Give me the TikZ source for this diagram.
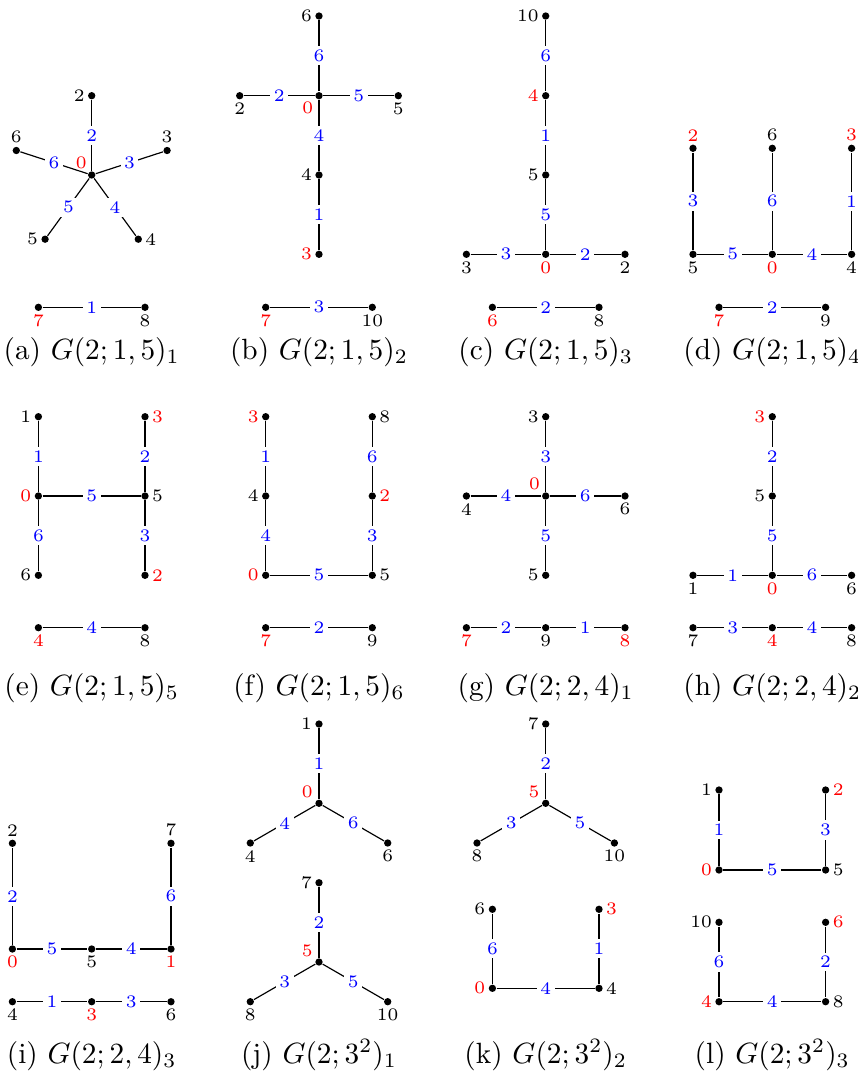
\documentclass[tikz,border=0pt]{standalone}
\usepackage{tikz}
\newcommand\lab{\fontsize{6}{7}\selectfont}
\newcommand\vtx[4]{\node[vdot,label={#4}] (#1) at (#2,#3) {};}
\newcommand\edg[3]{\draw (#1) -- node[elab]{#3} (#2);}
\tikzset{
  vdot/.style={circle,fill=black,inner sep=0pt,minimum size=2.5pt},
  elab/.style={fill=white,text=blue,font=\lab,inner sep=1.2pt},
  every label/.style={font=\lab,inner sep=0.8pt},
  capt/.style={anchor=base,font=\fontsize{10}{12}\selectfont,inner sep=0pt}
}
\begin{document}
\begin{tikzpicture}[x=0.3413pt,y=-0.3413pt,line width=0.4pt]
\useasboundingbox (0,0) rectangle (857,1082);
% (a)
\vtx{a0}{91.7}{175}{[red]120:0}
\vtx{a2}{91.7}{95.7}{left:2}
\vtx{a3}{167.1}{150.5}{above:3}
\vtx{a4}{138.3}{239.2}{right:4}
\vtx{a5}{45.1}{239.2}{left:5}
\vtx{a6}{16.3}{150.5}{above:6}
\vtx{a7}{38.4}{307.3}{[red]below:7}
\vtx{a8}{145}{307.3}{below:8}
\edg{a0}{a2}{2}\edg{a0}{a3}{3}\edg{a0}{a4}{4}\edg{a0}{a5}{5}\edg{a0}{a6}{6}\edg{a7}{a8}{1}
% (b)
\vtx{b6}{319}{16}{left:6}
\vtx{b0}{319}{95.7}{[red]below left:0}
\vtx{b2}{239.7}{95.7}{below:2}
\vtx{b5}{398.3}{95.7}{below:5}
\vtx{b4}{319}{175}{left:4}
\vtx{b3}{319}{254.3}{[red]left:3}
\vtx{b7}{265.7}{307.3}{[red]below:7}
\vtx{b10}{372.3}{307.3}{below:10}
\edg{b6}{b0}{6}\edg{b2}{b0}{2}\edg{b0}{b5}{5}\edg{b0}{b4}{4}\edg{b4}{b3}{1}\edg{b7}{b10}{3}
% (c)
\vtx{c10}{545.7}{16}{left:10}
\vtx{c4}{545.7}{95.7}{[red]left:4}
\vtx{c5}{545.7}{175}{left:5}
\vtx{c0}{545.7}{254.3}{[red]below:0}
\vtx{c3}{466.4}{254.3}{below:3}
\vtx{c2}{625}{254.3}{below:2}
\vtx{c6}{492.4}{307.3}{[red]below:6}
\vtx{c8}{599}{307.3}{below:8}
\edg{c10}{c4}{6}\edg{c4}{c5}{1}\edg{c5}{c0}{5}\edg{c3}{c0}{3}\edg{c0}{c2}{2}\edg{c6}{c8}{2}
% (d)
\vtx{d2}{693}{148.3}{[red]above:2}
\vtx{d6}{772.3}{148.3}{above:6}
\vtx{d3}{851.6}{148.3}{[red]above:3}
\vtx{d5}{693}{254.3}{below:5}
\vtx{d0}{772.3}{254.3}{[red]below:0}
\vtx{d4}{851.6}{254.3}{below:4}
\vtx{d7}{719}{307.3}{[red]below:7}
\vtx{d9}{825.6}{307.3}{below:9}
\edg{d2}{d5}{3}\edg{d6}{d0}{6}\edg{d3}{d4}{1}\edg{d5}{d0}{5}\edg{d0}{d4}{4}\edg{d7}{d9}{2}
% (e)
\vtx{e1}{38.4}{416.7}{left:1}
\vtx{e0}{38.4}{496}{[red]left:0}
\vtx{e6}{38.4}{575.3}{left:6}
\vtx{e3}{145}{416.7}{[red]right:3}
\vtx{e5}{145}{496}{right:5}
\vtx{e2}{145}{575.3}{[red]right:2}
\vtx{e4}{38.4}{627.7}{[red]below:4}
\vtx{e8}{145}{627.7}{below:8}
\edg{e1}{e0}{1}\edg{e0}{e6}{6}\edg{e0}{e5}{5}\edg{e3}{e5}{2}\edg{e5}{e2}{3}\edg{e4}{e8}{4}
% (f)
\vtx{f3}{265.7}{416.7}{[red]left:3}
\vtx{f4}{265.7}{496}{left:4}
\vtx{f0}{265.7}{575.3}{[red]left:0}
\vtx{f8}{372.3}{416.7}{right:8}
\vtx{f2}{372.3}{496}{[red]right:2}
\vtx{f5}{372.3}{575.3}{right:5}
\vtx{f7}{265.7}{627.7}{[red]below:7}
\vtx{f9}{372.3}{627.7}{below:9}
\edg{f3}{f4}{1}\edg{f4}{f0}{4}\edg{f0}{f5}{5}\edg{f8}{f2}{6}\edg{f2}{f5}{3}\edg{f7}{f9}{2}
% (g)
\vtx{g3}{545.7}{416.7}{left:3}
\vtx{g0}{545.7}{496}{[red]above left:0}
\vtx{g4}{466.4}{496}{below:4}
\vtx{g6}{625}{496}{below:6}
\vtx{g5}{545.7}{575.3}{left:5}
\vtx{g7}{466.4}{627.7}{[red]below:7}
\vtx{g9}{545.7}{627.7}{below:9}
\vtx{g8}{625}{627.7}{[red]below:8}
\edg{g3}{g0}{3}\edg{g4}{g0}{4}\edg{g0}{g6}{6}\edg{g0}{g5}{5}\edg{g7}{g9}{2}\edg{g9}{g8}{1}
% (h)
\vtx{h3}{772.3}{416.7}{[red]left:3}
\vtx{h5}{772.3}{496}{left:5}
\vtx{h0}{772.3}{575.3}{[red]below:0}
\vtx{h1}{693}{575.3}{below:1}
\vtx{h6}{851.6}{575.3}{below:6}
\vtx{h7}{693}{627.7}{below:7}
\vtx{h4}{772.3}{627.7}{[red]below:4}
\vtx{h8}{851.6}{627.7}{below:8}
\edg{h3}{h5}{2}\edg{h5}{h0}{5}\edg{h1}{h0}{1}\edg{h0}{h6}{6}\edg{h7}{h4}{3}\edg{h4}{h8}{4}
% (i)
\vtx{i2}{12.4}{843.3}{above:2}
\vtx{i7}{171}{843.3}{above:7}
\vtx{i0}{12.4}{949}{[red]below:0}
\vtx{i5}{91.7}{949}{below:5}
\vtx{i1}{171}{949}{[red]below:1}
\vtx{i4}{12.4}{1001.7}{below:4}
\vtx{i3}{91.7}{1001.7}{[red]below:3}
\vtx{i6}{171}{1001.7}{below:6}
\edg{i2}{i0}{2}\edg{i7}{i1}{6}\edg{i0}{i5}{5}\edg{i5}{i1}{4}\edg{i4}{i3}{1}\edg{i3}{i6}{3}
% (j)
\vtx{j1}{319}{724}{left:1}
\vtx{j0}{319}{803.3}{[red]145:0}
\vtx{j4}{250.3}{843}{below:4}
\vtx{j6}{387.7}{843}{below:6}
\vtx{j7}{319}{882.7}{left:7}
\vtx{j5}{319}{962}{[red]145:5}
\vtx{j8}{250.3}{1001.7}{below:8}
\vtx{j10}{387.7}{1001.7}{below:10}
\edg{j1}{j0}{1}\edg{j0}{j4}{4}\edg{j0}{j6}{6}\edg{j7}{j5}{2}\edg{j5}{j8}{3}\edg{j5}{j10}{5}
% (k)
\vtx{k7}{545.7}{724}{left:7}
\vtx{k5}{545.7}{803.3}{[red]145:5}
\vtx{k8}{477}{843}{below:8}
\vtx{k10}{614.4}{843}{below:10}
\vtx{k6}{492.4}{909.3}{left:6}
\vtx{k3}{599}{909.3}{[red]right:3}
\vtx{k0}{492.4}{988.3}{[red]left:0}
\vtx{k4}{599}{988.3}{right:4}
\edg{k7}{k5}{2}\edg{k5}{k8}{3}\edg{k5}{k10}{5}\edg{k6}{k0}{6}\edg{k3}{k4}{1}\edg{k0}{k4}{4}
% (l)
\vtx{l1}{719}{790}{left:1}
\vtx{l2}{825.6}{790}{[red]right:2}
\vtx{l0}{719}{870}{[red]left:0}
\vtx{l5}{825.6}{870}{right:5}
\vtx{l10}{719}{922.3}{left:10}
\vtx{l6}{825.6}{922.3}{[red]right:6}
\vtx{l4}{719}{1001.7}{[red]left:4}
\vtx{l8}{825.6}{1001.7}{right:8}
\edg{l1}{l0}{1}\edg{l2}{l5}{3}\edg{l0}{l5}{5}\edg{l10}{l4}{6}\edg{l6}{l8}{2}\edg{l4}{l8}{4}
% captions
\node[capt] (ca) at (91.7,359) {(a) $G(2;1,5)_1$};
\node[capt] (cb) at (319,359) {(b) $G(2;1,5)_2$};
\node[capt] (cc) at (545.7,359) {(c) $G(2;1,5)_3$};
\node[capt] (cd) at (772.3,359) {(d) $G(2;1,5)_4$};
\node[capt] (ce) at (91.7,695) {(e) $G(2;1,5)_5$};
\node[capt] (cf) at (319,695) {(f) $G(2;1,5)_6$};
\node[capt] (cg) at (545.7,695) {(g) $G(2;2,4)_1$};
\node[capt] (ch) at (772.3,695) {(h) $G(2;2,4)_2$};
\node[capt] (ci) at (91.7,1063) {(i) $G(2;2,4)_3$};
\node[capt] (cj) at (319,1063) {(j) $G(2;3^2)_1$};
\node[capt] (ck) at (545.7,1063) {(k) $G(2;3^2)_2$};
\node[capt] (cl) at (772.3,1063) {(l) $G(2;3^2)_3$};
\end{tikzpicture}
\end{document}
